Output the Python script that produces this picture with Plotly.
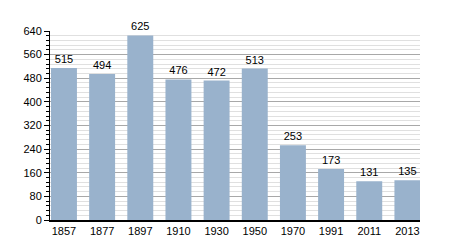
import plotly.graph_objects as go

years = ["1857", "1877", "1897", "1910", "1930", "1950", "1970", "1991", "2011", "2013"]
population = [515, 494, 625, 476, 472, 513, 253, 173, 131, 135]
y_ticks = [0, 80, 160, 240, 320, 400, 480, 560, 640]

fig = go.Figure(go.Bar(
    x=years, y=population,
    marker=dict(color="#99b2cc", line=dict(width=0)),
    text=[str(v) for v in population],
    textposition="outside",
    textfont=dict(family="Liberation Sans, Arial, sans-serif", size=11, color="black"),
    cliponaxis=False,
))

fig.update_layout(
    width=450, height=250,
    margin=dict(l=50, r=30, t=31, b=30),
    paper_bgcolor="white", plot_bgcolor="white",
    bargap=0.32,
    showlegend=False,
    font=dict(family="Liberation Sans, Arial, sans-serif", size=11, color="black"),
)
fig.update_yaxes(
    range=[0, 640], tickvals=y_ticks,
    showgrid=True, gridcolor="#a8a8a8", gridwidth=1,
    ticks="outside", ticklen=5, tickcolor="black",
    showline=True, linecolor="black", linewidth=1,
    minor=dict(dtick=16, showgrid=True, gridcolor="#e0e0e0", gridwidth=1,
               ticks="outside", ticklen=3, tickcolor="black"),
    zeroline=False,
)
fig.update_xaxes(
    range=[-0.366, 9.33],
    showline=True, linecolor="black", linewidth=2,
    ticks="", showgrid=False,
)

fig.write_html("out.html")
